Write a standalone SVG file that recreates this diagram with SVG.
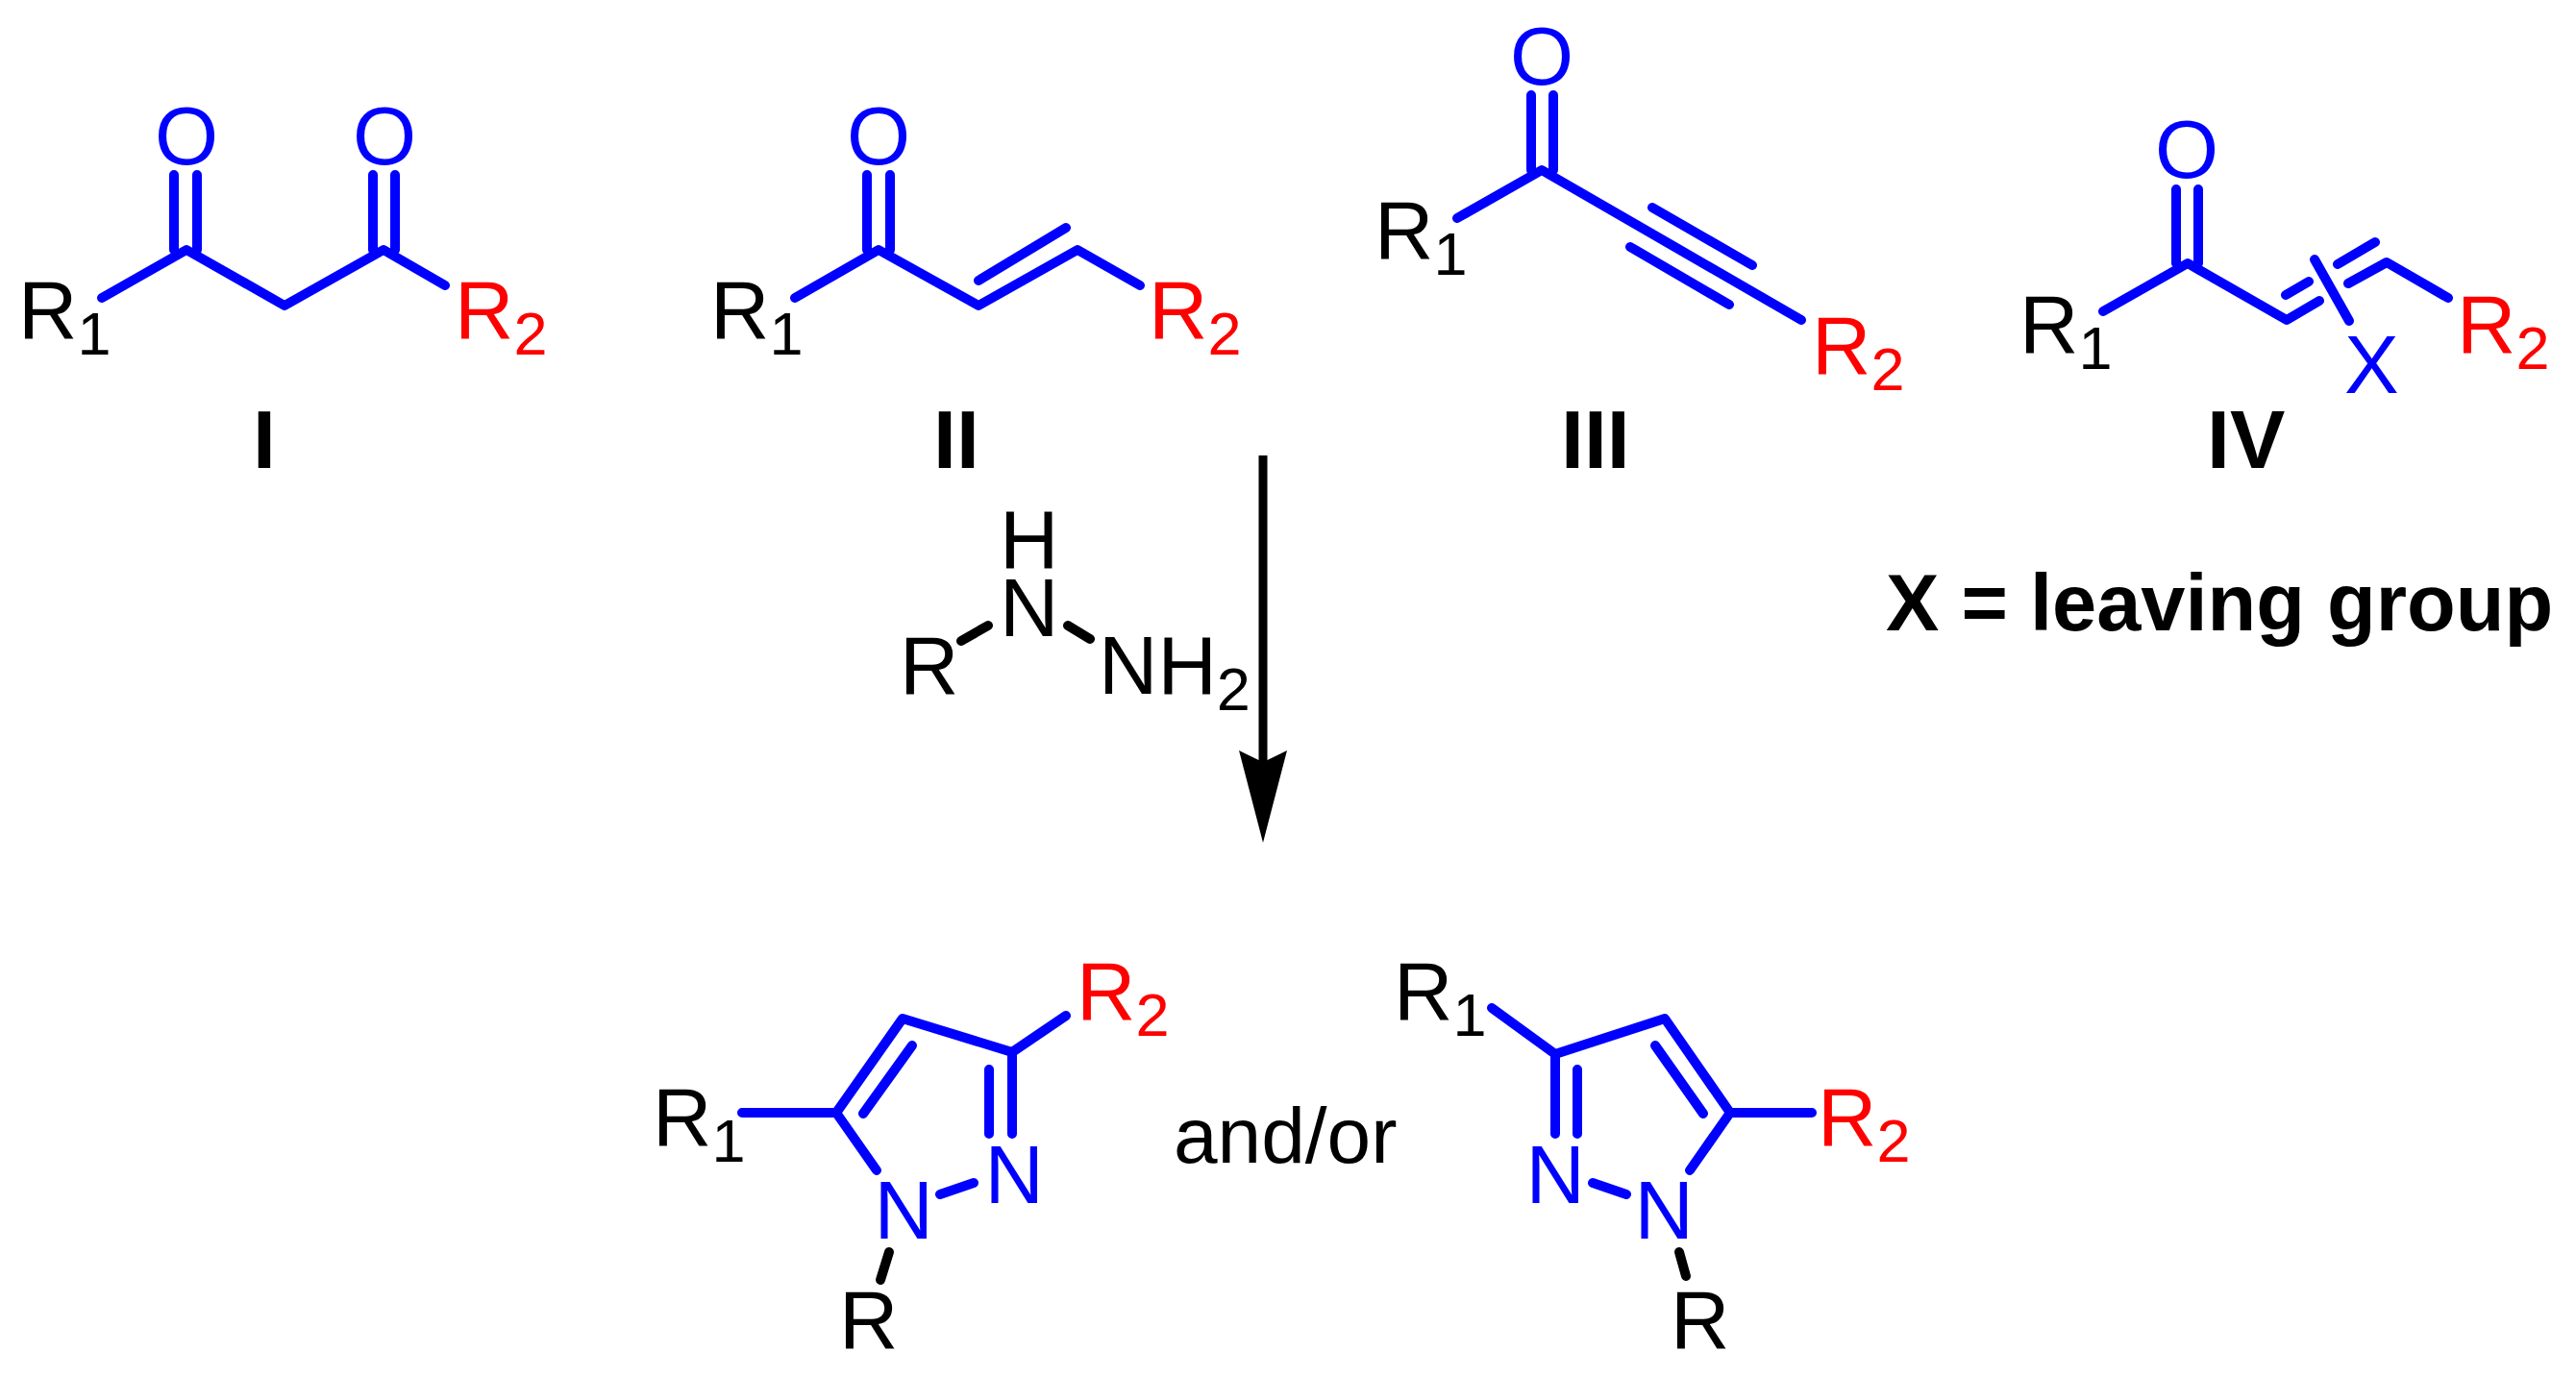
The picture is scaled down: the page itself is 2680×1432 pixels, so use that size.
<svg xmlns="http://www.w3.org/2000/svg" width="2680" height="1432" viewBox="0 0 2680 1432">
<style>
text{font-family:"Liberation Sans",Arial,sans-serif;font-size:85px;fill:#000}
.b{fill:#00f}.r{fill:#f00}
.l{font-weight:700;font-size:86px}
.n{font-weight:700;font-size:83px}
.a{font-size:82px}
.s{font-size:63px}
.bd{fill:none;stroke:#00f;stroke-width:10;stroke-linecap:round;stroke-linejoin:round}
.k{fill:none;stroke:#000;stroke-width:10;stroke-linecap:round}
</style>
<defs>
<marker id="head" markerUnits="userSpaceOnUse" markerWidth="96" markerHeight="50" viewBox="0 0 96 50" refX="12" refY="25" orient="auto">
<path d="M0 0Q9 18 12 25Q9 32 0 50L96 25Z" fill="#000"/>
</marker>
</defs>
<rect width="2680" height="1432" fill="#fff"/>
<g id="connectors">
<line x1="1314" y1="474" x2="1314" y2="793" stroke="#000" stroke-width="9" marker-end="url(#head)"/>
</g>
<g id="compound-I">
<path class="bd" d="M106 310L194 260L296 318L399 260L463 297M181 182V260M205 182V260M388 182V260M411 182V260"/>
<text x="161" y="171" class="b">O</text>
<text x="367" y="171" class="b">O</text>
<text x="19" y="352">R<tspan class="s" dy="17">1</tspan></text>
<text x="473" y="352" class="r">R<tspan class="s" dy="17">2</tspan></text>
<text x="263" y="487" class="l">I</text>
</g>
<g id="compound-II">
<path class="bd" d="M827 310L914 260L1018 318L1121 260L1186 297M1018 292L1109 237M902 182V260M926 182V260"/>
<text x="881" y="171" class="b">O</text>
<text x="739" y="352">R<tspan class="s" dy="17">1</tspan></text>
<text x="1195" y="352" class="r">R<tspan class="s" dy="17">2</tspan></text>
<text x="971" y="487" class="l">II</text>
</g>
<g id="compound-III">
<path class="bd" d="M1516 227L1604 177L1874 333M1719 216L1823 276M1696 257L1799 317M1593 99V177M1616 99V177"/>
<text x="1571" y="88" class="b">O</text>
<text x="1430" y="269">R<tspan class="s" dy="17">1</tspan></text>
<text x="1885" y="389" class="r">R<tspan class="s" dy="17">2</tspan></text>
<text x="1624" y="487" class="l">III</text>
</g>
<g id="compound-IV">
<path class="bd" d="M2188 324L2276 274L2379 333L2413 313M2378 307L2402 293M2408 270L2444 334M2443 295L2483 273L2547 310M2432 275L2471 252M2264 197V274M2287 197V274"/>
<text x="2242" y="185" class="b">O</text>
<text x="2101" y="367">R<tspan class="s" dy="17">1</tspan></text>
<text x="2556" y="367" class="r">R<tspan class="s" dy="17">2</tspan></text>
<text x="2439" y="409" class="b">X</text>
<text x="2296" y="487" class="l">IV</text>
</g>
<g id="leaving-group-note">
<text x="1962" y="656" class="n">X = leaving group</text>
</g>
<g id="hydrazine">
<path class="k" d="M1000 667L1028 651M1111 651L1134 665"/>
<text x="1040" y="591">H</text>
<text x="1040" y="662">N</text>
<text x="936" y="722">R</text>
<text x="1143" y="722">NH<tspan class="s" dy="17">2</tspan></text>
</g>
<g id="pyrazole-A">
<path class="bd" d="M772 1158H870L939 1060L1053 1095L1109 1057M1053 1095V1180M1029 1113V1180M949 1088L898 1159M870 1158L912 1218M978 1243L1013 1231"/>
<path class="k" d="M925 1303L916 1332"/>
<text x="679" y="1192">R<tspan class="s" dy="17">1</tspan></text>
<text x="1120" y="1061" class="r">R<tspan class="s" dy="17">2</tspan></text>
<text x="1024.5" y="1252" class="b">N</text>
<text x="909.5" y="1289" class="b">N</text>
<text x="873" y="1403">R</text>
</g>
<text id="and-or" x="1221" y="1210" class="a">and/or</text>
<g id="pyrazole-B">
<path class="bd" d="M1552 1049L1618 1097L1732 1060L1800 1158H1885M1618 1097V1180M1641 1113V1180M1722 1088L1772 1159M1800 1158L1758 1218M1657 1231L1692 1243"/>
<path class="k" d="M1747 1303L1754 1328"/>
<text x="1450" y="1061">R<tspan class="s" dy="17">1</tspan></text>
<text x="1891" y="1192" class="r">R<tspan class="s" dy="17">2</tspan></text>
<text x="1587.5" y="1252" class="b">N</text>
<text x="1700.5" y="1289" class="b">N</text>
<text x="1738" y="1403">R</text>
</g>
</svg>
